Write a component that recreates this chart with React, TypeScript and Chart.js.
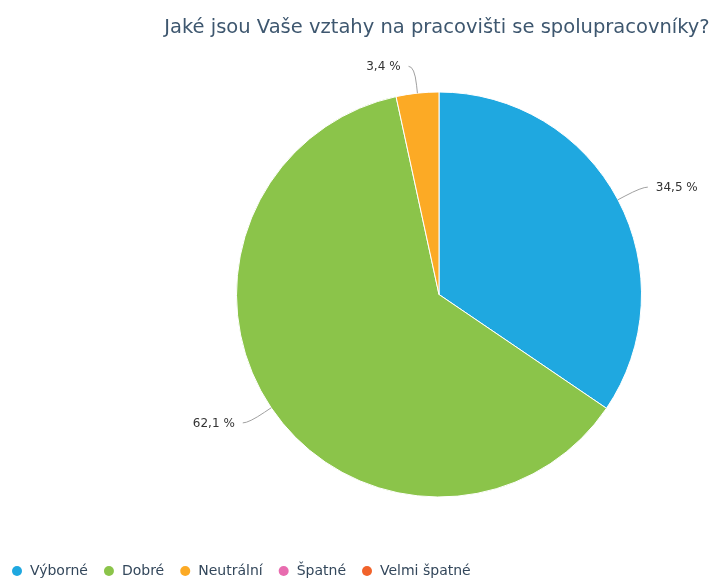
import React, { useEffect, useRef } from "react";
import { Chart, registerables } from "chart.js";

Chart.register(...registerables);

const titleText = "Jaké jsou Vaše vztahy na pracovišti se spolupracovníky?";
const categories = ["Výborné", "Dobré", "Neutrální", "Špatné", "Velmi špatné"];
const values = [34.5, 62.1, 3.4, 0, 0];
const colors = ["#1fa8e0", "#8bc44a", "#fcaa25", "#e86caf", "#f1632b"];

const FONT = "'DejaVu Sans', Verdana, sans-serif";

const fmt = (v: number) => v.toFixed(1).replace(".", ",") + " %";

const decorPlugin = {
  id: "decor",
  afterDraw(chart: any) {
    const ctx = chart.ctx as CanvasRenderingContext2D;
    ctx.save();
    // title
    ctx.font = `19.5px ${FONT}`;
    ctx.fillStyle = "#3e576f";
    ctx.textAlign = "center";
    ctx.textBaseline = "alphabetic";
    ctx.fillText(titleText, 437, 33);

    // data labels with connectors
    const meta = chart.getDatasetMeta(0);
    meta.data.forEach((arc: any, i: number) => {
      const v = values[i];
      if (!v) return;
      const { x, y, startAngle, endAngle, outerRadius } = arc.getProps(
        ["x", "y", "startAngle", "endAngle", "outerRadius"],
        true
      );
      const mid = (startAngle + endAngle) / 2;
      const c = Math.cos(mid);
      const s = Math.sin(mid);
      const side = c >= 0 ? 1 : -1;
      const d = 27;
      const E = { x: x + outerRadius * c, y: y + outerRadius * s };
      const P = { x: x + (outerRadius + d) * c, y: y + (outerRadius + d) * s };
      const B = { x: x + (outerRadius + 8) * c, y: y + (outerRadius + 8) * s };
      const textX = P.x + side * 14;
      ctx.strokeStyle = "#a0a0a0";
      ctx.lineWidth = 1;
      ctx.beginPath();
      ctx.moveTo(textX - side * 8, P.y);
      ctx.quadraticCurveTo(P.x, P.y, B.x, B.y);
      ctx.lineTo(E.x, E.y);
      ctx.stroke();
      ctx.font = `12px ${FONT}`;
      ctx.fillStyle = "#333333";
      ctx.textAlign = side > 0 ? "left" : "right";
      ctx.textBaseline = "middle";
      ctx.fillText(fmt(v), textX, P.y + 1);
    });

    // legend
    ctx.font = `14px ${FONT}`;
    ctx.textAlign = "left";
    ctx.textBaseline = "middle";
    let lx = 17;
    const ly = 571;
    categories.forEach((name, i) => {
      ctx.fillStyle = colors[i];
      ctx.beginPath();
      ctx.arc(lx, ly, 5, 0, Math.PI * 2);
      ctx.fill();
      ctx.fillStyle = "#33475b";
      const tx = lx + 13;
      ctx.fillText(name, tx, ly);
      lx = tx + ctx.measureText(name).width + 21;
    });
    ctx.restore();
  },
};

export default function App() {
  const ref = useRef<HTMLCanvasElement | null>(null);
  useEffect(() => {
    document.body.style.margin = "0";
    const chart = new Chart(ref.current as HTMLCanvasElement, {
      type: "pie",
      data: {
        labels: categories,
        datasets: [
          {
            data: values,
            backgroundColor: colors,
            borderColor: "#ffffff",
            borderWidth: 1,
          },
        ],
      },
      options: {
        responsive: false,
        animation: false,
        layout: { padding: { left: 236, right: 71, top: 91, bottom: 81 } },
        plugins: {
          legend: { display: false },
          title: { display: false },
          tooltip: { enabled: false },
        },
      },
      plugins: [decorPlugin],
    });
    return () => chart.destroy();
  }, []);
  return (
    <div style={{ position: "absolute", left: 0, top: 0, width: 713, height: 579 }}>
      <canvas ref={ref} width={713} height={579} style={{ width: 713, height: 579 }} />
    </div>
  );
}
